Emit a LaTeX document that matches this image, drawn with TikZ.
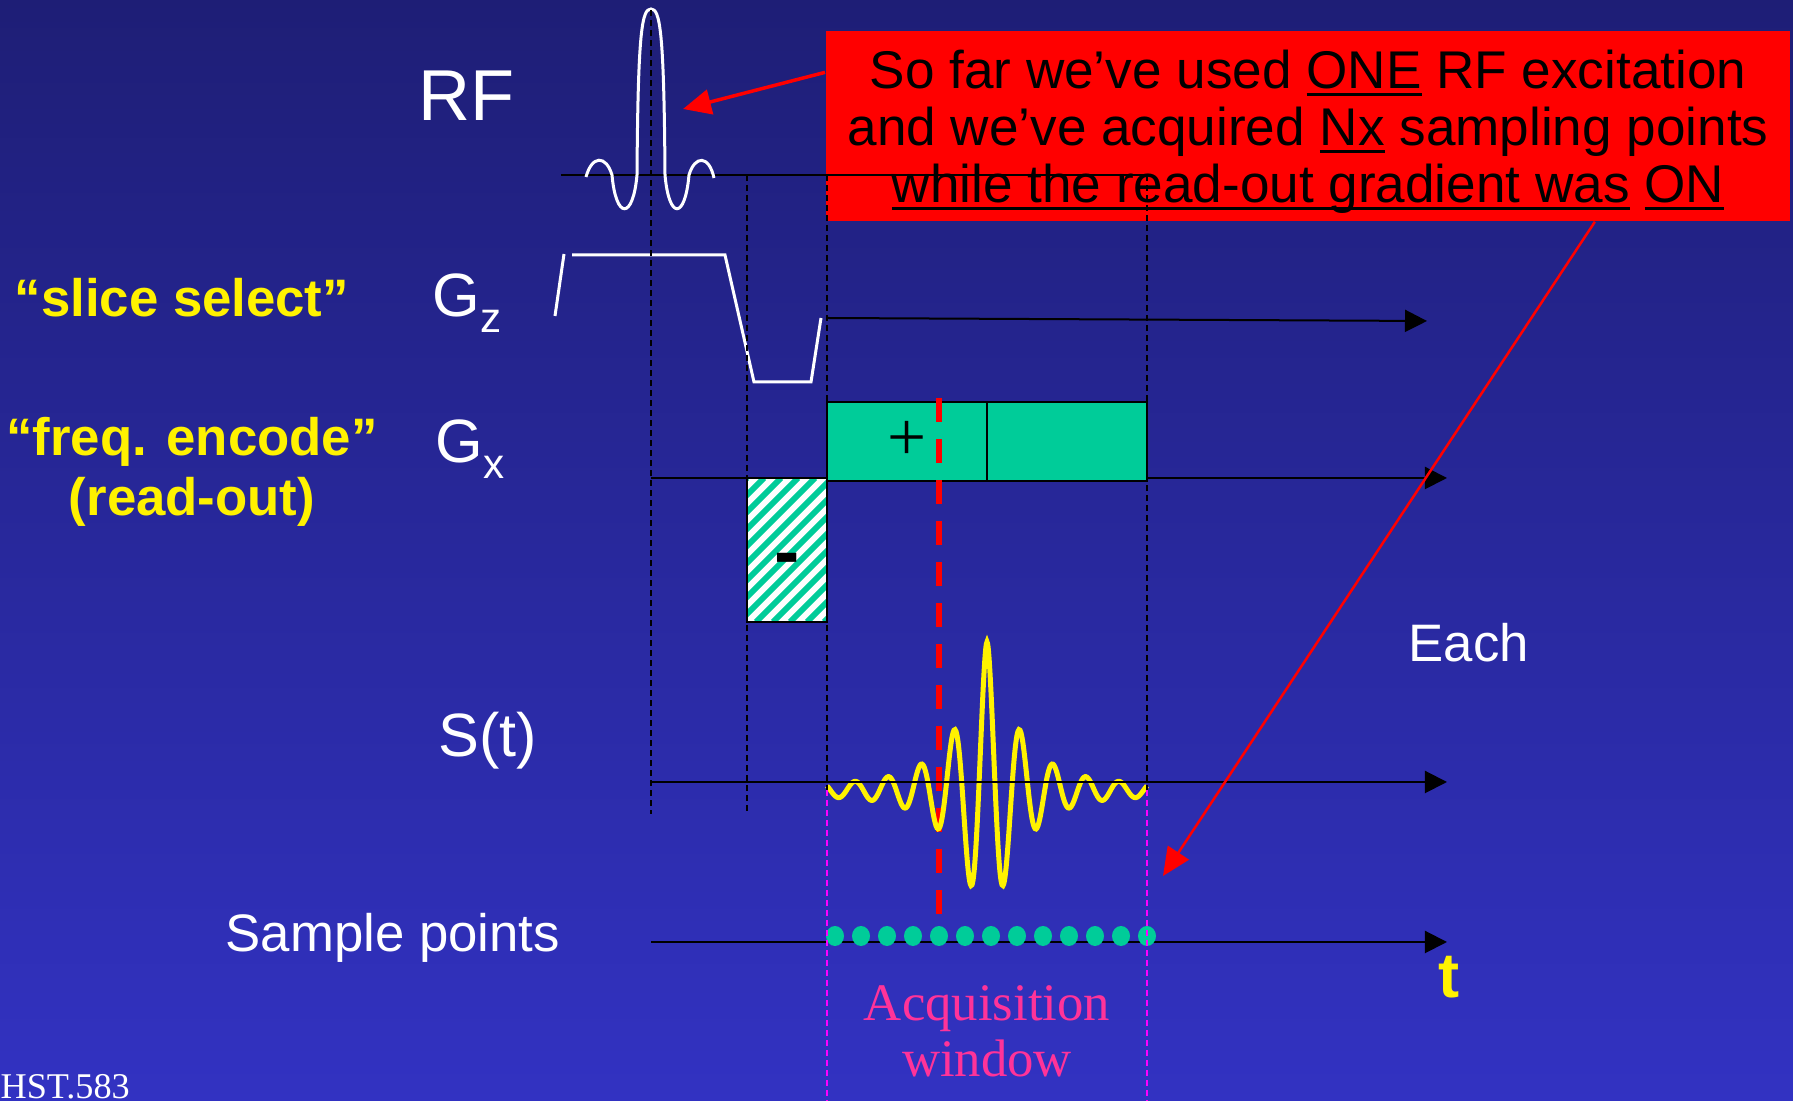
\documentclass[tikz,border=0pt]{standalone}
\usepackage{fontspec}
\setmainfont{Liberation Sans}
\newfontfamily\serifface{Liberation Serif}
\usepackage{tikz}
\usetikzlibrary{arrows.meta, calc}
\definecolor{bgtop}{HTML}{1E1E76}
\definecolor{bgbottom}{HTML}{3232C2}
\definecolor{notered}{HTML}{FF0000}
\definecolor{readout}{HTML}{00CC99}
\definecolor{acqmagenta}{HTML}{FF00FF}
\definecolor{acqtext}{HTML}{FF3399}
\newsavebox{\undlbox}
\newcommand{\undl}[1]{\sbox{\undlbox}{#1}\rlap{\rule[-2.3pt]{\wd\undlbox}{0.85pt}}\usebox{\undlbox}}

\begin{document}
\begin{tikzpicture}[x=0.01cm, y=-0.01cm, >={Triangle[length=0.22cm, width=0.22cm]}]
        \tikzstyle{axislabel} = [text=white, inner sep=0pt, anchor=base west]
        \tikzstyle{yellowlabel} = [text=yellow, inner sep=0pt, font=\bfseries\fontsize{15}{16.9}\selectfont]
        \tikzstyle{axis} = [draw, black, line width=0.02cm]
        \tikzstyle{timing} = [draw, black, line width=0.015cm, dash pattern=on 0.06cm off 0.04cm]
        \tikzstyle{acqline} = [draw, acqmagenta, line width=0.015cm, dash pattern=on 0.06cm off 0.04cm]
        \tikzstyle{pulse} = [draw, white, line width=0.03cm]
        \tikzstyle{lobe} = [draw=black, fill=readout, line width=0.02cm]
        \tikzstyle{callout} = [draw, -{Triangle[length=0.28cm, width=0.25cm]}, color=notered, line width=0.035cm]
        \tikzstyle{notebox} = [rectangle, fill=notered, minimum width=9.64cm, minimum height=1.9cm, inner sep=0pt, align=center, text=black, font=\fontsize{15.1}{16.2}\selectfont]

        % background
        \useasboundingbox (0,0) rectangle (1793,1101);
        \shade [top color=bgtop, bottom color=bgbottom] (0,0) rectangle (1793,1101);

        % red note
        \node [notebox] (note) at (1308,126) {\rule{0pt}{14pt}So far we’ve used \undl{ONE} RF excitation\\
            and we’ve acquired \undl{Nx} sampling points\\
            \undl{while the read-out gradient was} \undl{ON}};

        % axes
        \coordinate (rf0) at (561,175);
        \coordinate (rf1) at (1147,175);
        \coordinate (gz0) at (827,318);
        \coordinate (gz1) at (1427,321);
        \coordinate (gx0) at (651,478);
        \coordinate (gx1) at (1447,478);
        \coordinate (st0) at (651,782);
        \coordinate (st1) at (1447,782);
        \coordinate (sp0) at (651,942);
        \coordinate (sp1) at (1447,942);
        \path [axis] (rf0) -- (rf1);
        \path [axis, ->] (gz0) -- (gz1);
        \path [axis, ->] (gx0) -- (gx1);

        % RF pulse and slice gradient
        \path [pulse] (586,177) .. controls (592,155) and (606,155) .. (612,175)
            .. controls (616,220) and (633,220) .. (637,175)
            .. controls (638,30) and (642,9) .. (651,9)
            .. controls (660,9) and (664,30) .. (665,175)
            .. controls (669,220) and (685,220) .. (689,175)
            .. controls (695,155) and (709,155) .. (714,178);
        \path [pulse] (555,316) -- (564,254);
        \path [pulse] (572,255) -- (725,255) -- (754,382) -- (811,382) -- (821,318);

        % read-out lobes
        \path [lobe] (827,402) rectangle (987,481);
        \path [lobe] (987,402) rectangle (1147,481);
        \begin{scope}
            \clip (747,478) rectangle (827,622);
            \fill [white] (747,478) rectangle (827,622);
            \foreach \k in {0,...,14}
                \draw [readout, line width=0.06cm] (603+17*\k,622) -- ++(144,-144);
        \end{scope}
        \draw [black, line width=0.02cm] (747,478) rectangle (827,622);
        \node [inner sep=0pt, anchor=base, font=\serifface\fontsize{19.7}{20}\selectfont] (plus) at (907,461) {+};
        \node [inner sep=0pt, anchor=base, font=\bfseries\fontsize{21.6}{22}\selectfont] (minus) at (787,578) {-};

        % echo centre
        \draw [notered, line width=0.06cm, dash pattern=on 0.24cm off 0.17cm] (939,398) -- (939,918);

        % signal
        \draw [yellow, line width=0.05cm] plot [domain=827:1147, samples=321, smooth]
            (\x, {790-(142*exp((0.1-sqrt(((\x-987)/10)^2+0.01))*10/33)+6)*cos(360*((\x-987)/33))});
        \path [axis, ->] (st0) -- (st1);
        \path [axis, ->] (sp0) -- (sp1);
        \foreach \i in {0,...,12}
            \fill [readout] (835+26*\i,936) ellipse [x radius=0.09cm, y radius=0.1cm];

        % timing lines
        \path [timing] (651,10) -- (651,814);
        \path [timing] (747,175) -- (747,814);
        \path [timing] (827,175) -- (827,790);
        \path [timing] (1147,175) -- (1147,790);
        \path [acqline] (827,790) -- (827,1101);
        \path [acqline] (1147,790) -- (1147,1101);

        % callouts
        \coordinate (rftip) at (683,109);
        \coordinate (acqtip) at (1163,876);
        \path [callout] ($(note.north west)!0.22!(note.south west)$) -- (rftip);
        \path [callout, line width=0.025cm] ($(note.south west)!0.797!(note.south east)$) -- (acqtip);

        % labels
        \node [axislabel, font=\fontsize{20.5}{24}\selectfont] (rf) at (418,121) {RF};
        \node [axislabel, font=\fontsize{17.4}{20}\selectfont] (gz) at (432,317) {G\raisebox{-4.5pt}{\fontsize{12}{12}\selectfont z}};
        \node [axislabel, font=\fontsize{17.4}{20}\selectfont] (gx) at (435,463) {G\raisebox{-4.3pt}{\fontsize{12}{12}\selectfont x}};
        \node [axislabel, font=\fontsize{17.4}{20}\selectfont] (st) at (438,757) {S(t)};
        \node [axislabel, font=\fontsize{15}{18}\selectfont] (samples) at (225,952) {Sample points};
        \node [axislabel, font=\fontsize{15}{18}\selectfont] (each) at (1408,662) {Each};
        \node [yellowlabel, anchor=base west, font=\bfseries\fontsize{18}{20}\selectfont] (tlabel) at (1438,998) {t};
        \node [yellowlabel, anchor=base west] (slice) at (14,317) {“slice select”};
        \node [yellowlabel, align=center] (freq) at (192,472) {“freq. encode”\\(read-out)};
        \node [inner sep=0pt, align=center, text=acqtext, font=\serifface\fontsize{15}{15.9}\selectfont] (acq) at (987,1031) {Acquisition\\window};
        \node [axislabel, font=\serifface\fontsize{10.3}{12}\selectfont] (hst) at (0,1099) {HST.583};
    \end{tikzpicture}
\end{document}
